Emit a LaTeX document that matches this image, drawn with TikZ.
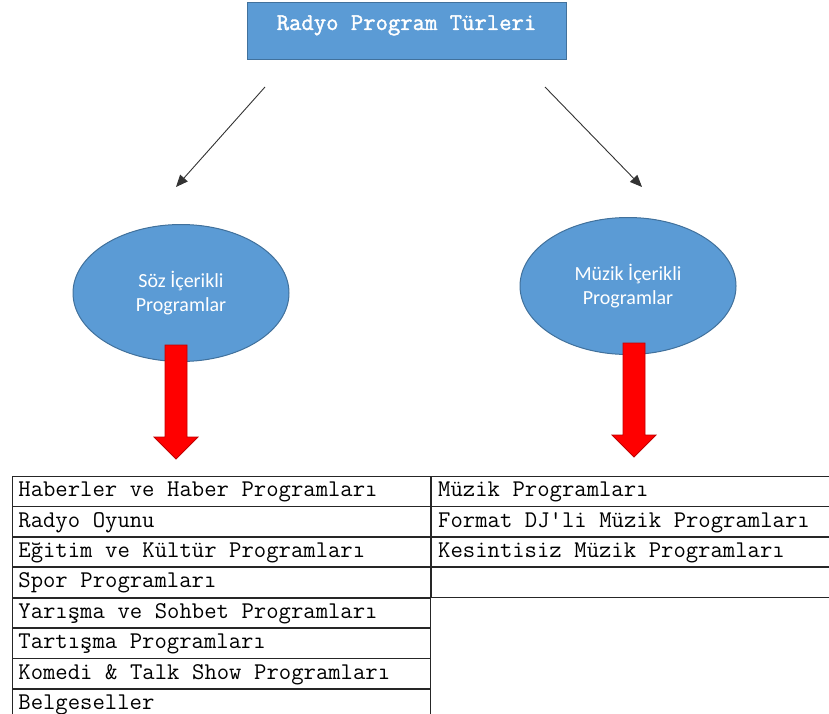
\documentclass[tikz,border=0pt]{standalone}
\usepackage{fontspec}
\newfontfamily\calibrifont{Carlito}
\newfontfamily\cellfont{Latin Modern Mono}
\newfontfamily\titlefont{Latin Modern Mono}[FakeBold=1.6]
\usetikzlibrary{positioning,shapes.geometric,arrows.meta}
\setlength{\parindent}{0pt}
\definecolor{boxblue}{HTML}{5B9BD5}
\definecolor{boxedge}{HTML}{41719C}
\definecolor{arrowred}{HTML}{FF0000}
\definecolor{arrowedge}{HTML}{C00000}
\tikzset{
  % Specifications for style of nodes:
  base/.style = {
    draw=boxedge,
    fill=boxblue,
    line width=1pt
  },
  title/.style = {
    base,
    rectangle,
    minimum width=319pt,
    inner ysep=0pt,
    text height=27pt,
    text depth=30pt,
    text=white,
    font=\titlefont\fontsize{24}{26}\selectfont
  },
  kind/.style = {
    base,
    ellipse,
    minimum width=216pt,
    minimum height=137pt,
    inner sep=0pt,
    align=center,
    text=white,
    font=\calibrifont\fontsize{20}{24}\selectfont
  },
  cell/.style = {
    rectangle,
    draw=black!85,
    line width=0.8pt,
    minimum height=29.6pt,
    inner ysep=0pt,
    text height=15pt,
    text depth=4pt,
    font=\cellfont\fontsize{24}{26}\selectfont,
    execute at begin node={\spaceskip=12.6pt\relax\xspaceskip=12.6pt\relax}
  },
  leftcell/.style = {
    cell,
    inner xsep=6pt,
    text width=406pt
  },
  rightcell/.style = {
    cell,
    inner xsep=7pt,
    text width=388pt
  },
  thin/.style = {
    draw=black!80,
    line width=0.9pt,
    -{Triangle[length=12pt,width=10pt]}
  },
  bigarrow/.style = {
    draw=arrowedge,
    fill=arrowred,
    line width=0.8pt
  },
}
% red block arrow: #1 = centre x, #2 = top y
\def\redarrow#1#2{
  \draw[bigarrow] (#1-11,#2) -- (#1+11,#2) -- (#1+11,#2+92) -- (#1+22,#2+92)
    -- (#1,#2+114) -- (#1-22,#2+92) -- (#1-11,#2+92) -- cycle;
}

\begin{document}
\begin{tikzpicture}[x=1pt, y=-1pt]
    \useasboundingbox (0,0) rectangle (829,714);
    % Specification of nodes (position, etc.)
    \node[title] (types) at (406.5,31.5) {Radyo Program Türleri};
    \node[kind] (soz)   at (181,293) {Söz İçerikli\\Programlar};
    \node[kind] (muzik) at (628,286) {Müzik İçerikli\\Programlar};
    \coordinate (sozfrom)   at (265,87);
    \coordinate (sozto)     at (176,187);
    \coordinate (muzikfrom) at (545,87);
    \coordinate (muzikto)   at (642,187);
    \draw[thin] (sozfrom) -- (sozto);
    \draw[thin] (muzikfrom) -- (muzikto);
    \redarrow{176}{345}
    \redarrow{634}{343}
    % table of programmes
    \node[leftcell, anchor=north west] (soz1) at (12,476) {Haberler ve Haber Programları};
    \node[leftcell, below=0pt of soz1] (soz2) {Radyo Oyunu};
    \node[leftcell, below=0pt of soz2] (soz3) {Eğitim ve Kültür Programları};
    \node[leftcell, below=0pt of soz3] (soz4) {Spor Programları};
    \node[leftcell, below=0pt of soz4] (soz5) {Yarışma ve Sohbet Programları};
    \node[leftcell, below=0pt of soz5] (soz6) {Tartışma Programları};
    \node[leftcell, below=0pt of soz6] (soz7) {Komedi \& Talk Show Programları};
    \node[leftcell, below=0pt of soz7] (soz8) {Belgeseller};
    \node[rightcell, right=0pt of soz1] (muzik1) {Müzik Programları};
    \node[rightcell, right=0pt of soz2] (muzik2) {Format DJ'li Müzik Programları};
    \node[rightcell, right=0pt of soz3] (muzik3) {Kesintisiz Müzik Programları};
    \node[rightcell, right=0pt of soz4] (muzik4) {};
  \end{tikzpicture}
\end{document}
